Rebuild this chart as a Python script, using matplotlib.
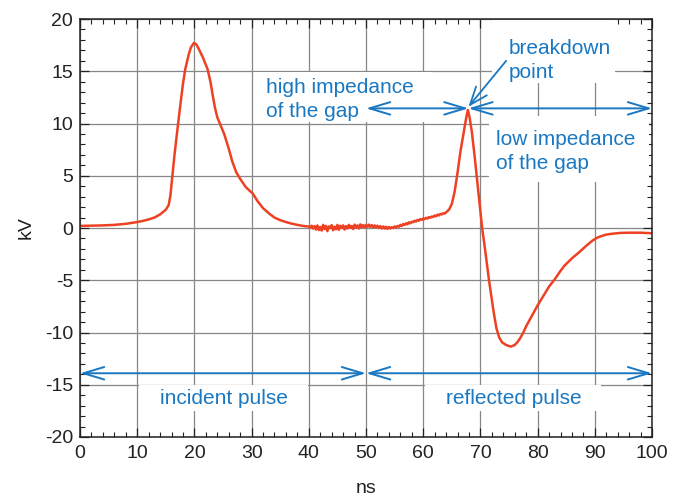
"""
Pulso incidente e refletido no gap (kV x ns)
"""

import numpy as np
import matplotlib
matplotlib.use("Agg")
import matplotlib.pyplot as plt
from matplotlib.ticker import MultipleLocator
from matplotlib.patches import Rectangle

# --- dados ---
# trecho suave: pulso incidente (0 a 40 ns)
t_incident = [0, 2, 4, 6, 8, 10, 11, 12, 13, 14, 15, 15.5, 15.8, 16, 16.5, 17,
              17.5, 18, 18.4, 19, 19.4, 19.9, 20.3, 20.8, 21.5, 22.3, 22.8,
              23.2, 23.6, 24, 24.6, 25.2, 26, 26.6, 27.3, 28, 29, 30.2, 31,
              32, 33.1, 34, 35, 36, 37, 38, 39, 39.75]
v_incident = [0.2, 0.22, 0.25, 0.3, 0.4, 0.57, 0.68, 0.82, 1.0, 1.3, 1.75, 2.2,
              3.1, 4.2, 6.9, 9.3, 11.6, 13.8, 15.2, 16.6, 17.3, 17.7, 17.6,
              17.1, 16.3, 15.2, 14.0, 12.7, 11.5, 10.6, 9.8, 9.0, 7.6, 6.4,
              5.35, 4.7, 3.9, 3.3, 2.6, 1.9, 1.37, 1.0, 0.75, 0.57, 0.42, 0.3,
              0.2, 0.15]

# trecho ruidoso (40 a 64 ns), amostrado a cada 0.25 ns
v_noisy = [0.15, 0.05, 0.22, -0.05, 0.18, -0.15, 0.25, -0.2, 0.1, -0.25, 0.3,
           -0.1, 0.2, -0.3, 0.15, 0.0, 0.28, -0.22, 0.12, -0.12, 0.3, -0.18,
           0.22, 0.0, 0.25, -0.15, 0.18, -0.05, 0.3, 0.02, 0.2, -0.1, 0.32,
           0.05, 0.25, -0.05, 0.35, 0.08, 0.28, 0.05, 0.3,
           0.12, 0.32, 0.1, 0.28, 0.05, 0.25, 0.08, 0.22, 0.0, 0.18, -0.05,
           0.15, -0.05, 0.12, -0.08, 0.1, -0.05, 0.08, 0.0, 0.15, 0.05, 0.2,
           0.12, 0.3, 0.2, 0.38, 0.3, 0.45, 0.35, 0.55, 0.45, 0.6,
           0.55, 0.7, 0.62, 0.78, 0.7, 0.85, 0.78, 0.9, 0.85, 0.98, 0.9, 1.05,
           0.98, 1.1, 1.05, 1.2, 1.12, 1.28, 1.2, 1.35, 1.3, 1.42, 1.38, 1.5]
t_noisy = np.arange(40, 64.01, 0.25)

# ruptura e pulso refletido (64 a 100 ns)
t_reflected = [64.5, 65, 65.5, 66, 66.5, 67, 67.5, 67.8, 68.1, 68.5, 69, 69.5,
               70, 70.3, 70.8, 71.5, 72.3, 72.8, 73.3, 73.8, 74.5, 75.3, 76,
               76.5, 77, 77.5, 78, 79, 80, 81, 82, 83, 84, 84.7, 86, 87.3,
               88.5, 89.6, 90.5, 91.9, 93, 94.5, 96, 98, 100]
v_reflected = [1.75, 2.3, 3.5, 5.3, 7.3, 8.9, 10.5, 11.3, 10.6, 9.2, 6.8, 4.2,
               1.5, 0.0, -2.0, -5.0, -8.0, -9.6, -10.5, -10.95, -11.2, -11.35,
               -11.2, -10.9, -10.5, -10.0, -9.4, -8.4, -7.4, -6.5, -5.6, -4.9,
               -4.1, -3.6, -2.9, -2.3, -1.7, -1.2, -0.9, -0.64, -0.55, -0.47,
               -0.45, -0.45, -0.5]

# anotacoes
breakdown_t = 67.9
breakdown_v = 11.6
arrow_v_top = 11.45
arrow_v_bottom = -13.9

BLUE = '#1a78c2'
RED = '#ee4123'


def main():
    plt.rcParams['font.family'] = ['Liberation Sans', 'DejaVu Sans']
    plt.rcParams['axes.unicode_minus'] = False

    t = np.concatenate([t_incident, t_noisy, t_reflected])
    v = np.concatenate([v_incident, v_noisy, v_reflected])

    fig = plt.figure(figsize=(6.78, 4.98), dpi=100)
    ax = fig.add_axes([0.118, 0.1225, 0.8437, 0.8393])

    # grade e eixos
    ax.set_xlim(0, 100)
    ax.set_ylim(-20, 20)
    ax.xaxis.set_major_locator(MultipleLocator(10))
    ax.xaxis.set_minor_locator(MultipleLocator(2))
    ax.yaxis.set_major_locator(MultipleLocator(5))
    ax.yaxis.set_minor_locator(MultipleLocator(1))
    ax.set_axisbelow(True)
    ax.grid(which='major', color='#878787', lw=0.9)
    ax.tick_params(which='both', direction='in', top=True, right=True,
                   color='#222222', labelsize=14, labelcolor='#222222')
    ax.tick_params(which='major', length=6.5, width=0.9)
    ax.tick_params(which='minor', length=3.6, width=0.8)
    ax.tick_params(axis='y', pad=5)
    ax.tick_params(axis='x', pad=5.5)
    for s in ax.spines.values():
        s.set_linewidth(1.1)
        s.set_color('#222222')

    ax.set_xlabel('ns', fontsize=14, color='#222222')
    ax.set_ylabel('kV', fontsize=14, color='#222222')
    ax.xaxis.set_label_coords(0.5, -0.103)
    ax.yaxis.set_label_coords(-0.08, 0.5)

    # caixas brancas atras dos textos (escondem a grade)
    boxes = [(30.5, 10.1, 31.0, 4.8), (72.0, 13.9, 21.5, 6.0),
             (71.5, 4.4, 28.0, 6.3), (10.3, -17.5, 29.6, 2.45),
             (60.3, -17.5, 30.7, 2.45)]
    for x0, y0, w, h in boxes:
        ax.add_patch(Rectangle((x0, y0), w, h, fc='white', ec='none', zorder=1))

    # curva
    ax.plot(t, v, color=RED, lw=1.8, zorder=2)

    # setas
    both = dict(arrowstyle='<->,head_length=1.5,head_width=0.45', color=BLUE,
                lw=1.4, shrinkA=0, shrinkB=0, mutation_scale=10)
    ax.annotate('', xy=(50, arrow_v_top), xytext=(breakdown_t, arrow_v_top),
                arrowprops=both, zorder=3)
    ax.annotate('', xy=(100, arrow_v_top), xytext=(breakdown_t, arrow_v_top),
                arrowprops=both, zorder=3, annotation_clip=False)
    ax.annotate('', xy=(0, arrow_v_bottom), xytext=(50, arrow_v_bottom),
                arrowprops=both, zorder=3, annotation_clip=False)
    ax.annotate('', xy=(100, arrow_v_bottom), xytext=(50, arrow_v_bottom),
                arrowprops=both, zorder=3, annotation_clip=False)
    ax.annotate('', xy=(breakdown_t, breakdown_v), xytext=(74.5, 16.0),
                arrowprops=dict(arrowstyle='->,head_length=1.3,head_width=0.5',
                                color=BLUE, lw=1.3, shrinkA=0, shrinkB=0,
                                mutation_scale=10), zorder=3)

    # textos
    txt = dict(color=BLUE, fontsize=15, linespacing=1.32, zorder=4)
    ax.text(32.6, 12.3, 'high impedance\nof the gap', ha='left', va='center', **txt)
    ax.text(75.0, 16.05, 'breakdown\npoint', ha='left', va='center', **txt)
    ax.text(72.8, 7.3, 'low impedance\nof the gap', ha='left', va='center', **txt)
    ax.text(25.1, -16.35, 'incident pulse', ha='center', va='center', **txt)
    ax.text(75.8, -16.35, 'reflected pulse', ha='center', va='center', **txt)

    fig.savefig('out.png', dpi=100)


if __name__ == "__main__":
    main()
